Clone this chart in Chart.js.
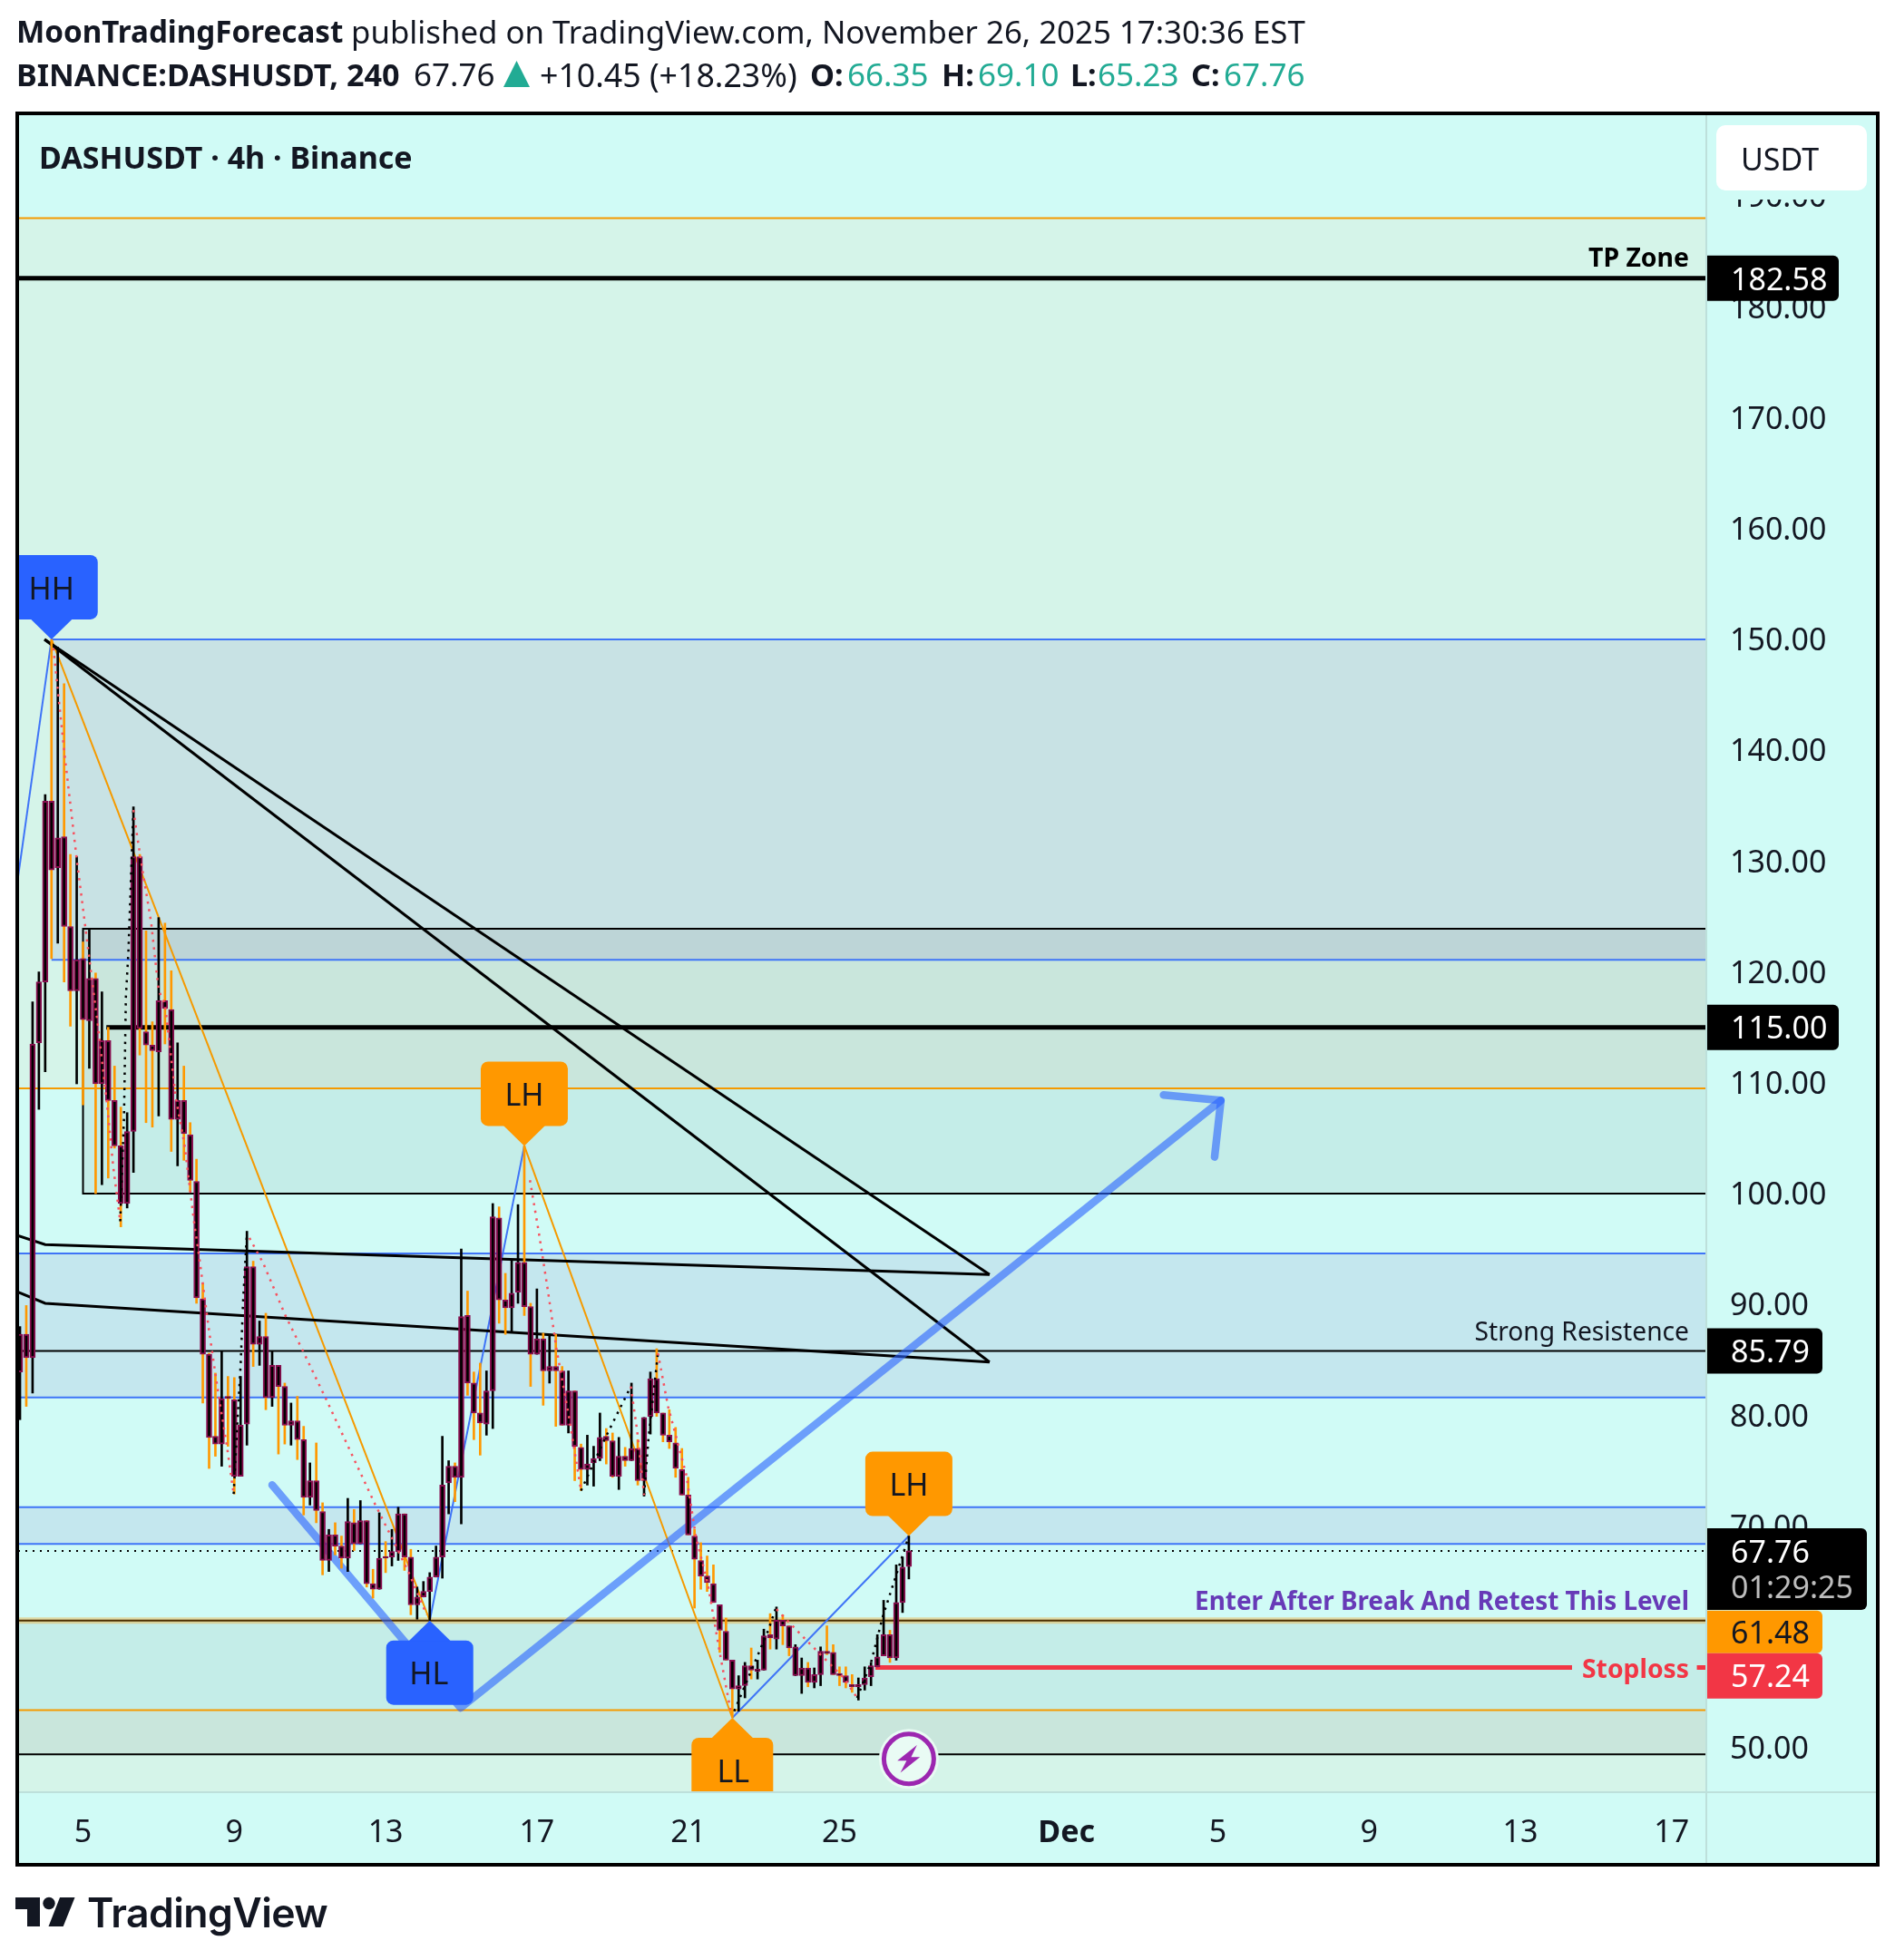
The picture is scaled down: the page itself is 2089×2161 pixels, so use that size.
<!DOCTYPE html>
<html><head><meta charset="utf-8">
<script src="https://cdn.jsdelivr.net/npm/chart.js@4"></script>
<style>
html,body{margin:0;padding:0;background:#fff;width:2089px;height:2161px;overflow:hidden}
#c{position:absolute;left:0;top:0}
.h{position:absolute;font-family:"Noto Sans",sans-serif;font-size:35px;color:#131722;white-space:nowrap;line-height:40px}
.b{font-weight:700;font-size:33.2px}.b2{font-weight:700;font-size:34.2px}.t{color:#22ab94}
.l1{top:15px}.l2{top:62px}
#tv{position:absolute;left:96px;top:2081px;font-family:"Inter",sans-serif;font-weight:600;font-size:44.6px;line-height:56px;color:#131722;letter-spacing:-.6px;white-space:nowrap}
#logo{position:absolute;left:0;top:2030px}
#tri{position:absolute;left:555px;top:67px}
</style></head><body>
<canvas id="c" width="2089" height="2161"></canvas>
<div class="h b l1" style="left:18px">MoonTradingForecast</div>
<div class="h l1" style="left:387px;font-size:34.8px">published on TradingView.com, November 26, 2025 17:30:36 EST</div>
<div class="h b2 l2" style="left:18px">BINANCE:DASHUSDT, 240</div>
<div class="h l2" style="left:456px">67.76</div>
<svg id="tri" width="29" height="29"><path fill="#22ab94" d="M14.5 0L29 29H0Z"/></svg>
<div class="h l2" style="left:595px;font-size:35.7px">+10.45 (+18.23%)</div>
<div class="h b2 l2" style="left:893px">O:</div><div class="h t l2" style="left:934px">66.35</div>
<div class="h b2 l2" style="left:1038px">H:</div><div class="h t l2" style="left:1078px">69.10</div>
<div class="h b2 l2" style="left:1180px">L:</div><div class="h t l2" style="left:1210px">65.23</div>
<div class="h b2 l2" style="left:1313px">C:</div><div class="h t l2" style="left:1349px">67.76</div>
<svg id="logo" width="100" height="131"><path fill="#131722" d="M17 62H44V94H30V75H17Z"/><circle cx="54" cy="68.5" r="6.7" fill="#131722"/><path fill="#131722" d="M66 62H82.5L69.7 94H53.5Z"/></svg>
<div id="tv">TradingView</div>
<script>
// ---- values ----
const opens=[83.9,87.3,85.2,113.6,119.1,135.4,129.4,132.2,124.1,118.3,121.2,115.6,119.4,109.9,113.8,108.4,104.3,99.1,105.6,130.4,114.6,113.4,112.8,117.4,116.6,106.7,108.4,105.3,101.1,90.5,85.5,78.1,77.4,81.7,81.4,74.5,79.2,93.4,86.4,87.1,81.6,84.5,82.6,79.1,79.5,77.8,72.6,74.1,71.3,66.9,69.2,68.2,67.1,70.3,68.4,70.5,64.8,64.3,67.2,67.2,67.7,71.1,67.2,62.9,63.6,64.1,65.4,67.2,73.9,75.4,74.4,89.0,82.9,80.2,79.2,82.2,97.8,90.4,89.7,91.1,93.8,89.8,85.5,86.9,84.0,84.4,84.0,79.1,82.2,77.1,75.1,75.7,76.1,78.1,77.7,74.5,76.3,75.9,77.0,74.1,79.9,83.3,80.2,78.2,77.5,75.1,72.8,69.1,66.9,65.5,64.8,62.9,60.5,57.9,55.3,55.6,57.4,56.9,57.0,60.2,59.8,61.5,61.0,56.5,56.5,57.2,55.9,56.6,58.7,58.6,56.7,56.5,55.7,55.5,55.7,56.4,57.3,58.3,60.2,58.1,63.1,66.35];
const highs=[88.0,89.9,117.3,120.0,136.0,150.0,149.3,146.0,130.6,130.4,122.7,123.8,119.9,118.2,115.0,111.5,107.8,107.3,134.9,130.6,123.7,115.5,124.9,124.4,120.1,113.6,111.5,106.4,103.1,91.9,85.6,83.8,85.8,83.5,83.4,83.5,96.6,93.9,88.5,89.2,85.8,84.5,82.9,81.1,81.7,79.0,75.7,77.5,72.1,69.7,70.3,69.1,72.5,71.5,72.3,70.5,66.1,71.2,68.6,69.7,71.7,71.1,67.9,64.5,65.0,65.8,68.2,78.1,75.9,75.7,95.0,91.2,83.9,84.7,84.0,99.1,98.8,92.8,94.0,99.0,104.3,90.1,91.4,87.4,87.2,87.3,84.4,84.0,82.2,77.4,78.2,77.2,80.2,78.8,78.4,78.0,77.1,82.9,77.8,79.8,83.9,86.0,80.2,80.5,78.9,77.0,74.4,69.7,68.5,67.3,66.5,62.9,61.7,57.9,56.5,57.7,59.0,57.9,60.7,62.1,62.7,62.0,61.0,59.3,58.1,57.7,57.2,59.1,61.0,59.3,57.3,57.3,56.6,56.3,57.3,57.7,60.2,63.3,60.6,66.5,67.2,69.10];
const lows=[79.6,80.8,82.0,107.6,111.0,121.2,122.6,119.1,115.1,109.9,108.0,111.3,100.0,100.8,101.4,104.1,97.0,98.7,101.9,112.5,106.4,106.0,107.0,113.5,103.8,102.5,103.0,100.2,90.1,81.1,75.2,76.3,75.4,77.2,72.9,74.5,77.3,84.4,84.5,80.5,80.8,76.5,77.4,77.3,76.0,71.0,71.9,70.3,65.6,65.9,67.4,66.2,65.9,67.8,68.4,64.5,63.5,64.3,65.8,66.4,66.9,66.0,62.0,61.6,63.6,61.48,65.4,65.3,71.1,72.2,70.2,81.8,77.8,76.4,78.2,78.8,88.3,87.3,87.5,90.1,89.0,82.6,85.5,80.9,82.9,79.0,79.1,78.4,74.1,73.2,73.7,73.6,75.9,75.6,74.4,73.3,75.4,75.9,73.7,72.7,78.3,79.9,77.6,77.0,74.4,72.8,69.2,62.6,64.3,64.1,63.1,58.6,57.9,52.7,53.3,54.5,56.2,56.2,57.0,58.9,58.9,59.3,58.3,56.5,54.9,55.5,55.4,55.6,58.4,56.6,55.6,55.4,55.0,54.3,55.2,55.6,57.3,58.3,57.7,57.9,62.2,65.23];
const closes=[87.3,85.2,113.5,119.1,135.4,129.2,132.1,124.1,118.3,121.1,115.7,119.4,109.9,113.8,108.4,104.3,99.1,105.6,130.4,114.9,113.4,112.9,117.4,116.7,106.7,108.4,105.4,101.2,90.6,85.5,78.0,77.4,81.5,81.5,74.5,79.1,93.4,86.4,87.1,81.6,84.5,82.6,79.1,79.5,77.8,72.6,74.1,71.4,66.9,69.2,68.2,67.1,70.4,68.4,70.5,64.8,64.3,67.1,67.1,67.7,71.1,67.2,62.9,63.6,64.1,65.4,67.2,73.7,75.4,74.4,88.9,82.9,80.2,79.3,82.2,97.9,90.4,89.7,91.0,93.8,89.8,85.5,86.9,84.0,84.4,84.0,79.1,82.2,77.2,75.1,75.6,76.1,78.0,77.7,74.5,76.3,75.9,77.0,74.1,79.8,83.3,80.2,78.2,77.6,75.2,72.8,69.2,67.0,65.5,64.9,63.1,60.6,57.9,55.3,55.6,57.4,57.0,57.1,60.1,59.9,61.5,61.0,59.0,59.1,57.2,55.9,56.6,58.7,58.5,56.6,56.5,55.9,55.5,55.7,56.3,57.4,58.2,60.2,58.1,63.1,66.3,67.76];

const xTickPos=[10,34,58,82,106,130,166,190,214,238,262];
const xTickText=['5','9','13','17','21','25','Dec','5','9','13','17'];
const yTickVals=[50,60,70,80,90,100,110,120,130,140,150,160,170,180,190];

const blueZig1=[[-0.29,128.6],[5,150]];
const blueZig2=[[65,61.48],[80,104.3]];
const blueZig3=[[113,52.7],[141,69.1]];
const orangeZig1=[[5,150],[65,61.48]];
const orangeZig2=[[80,104.3],[113,52.7]];

const pinkDots=[
 [[5.3,149.2],[7.1,139.5],[9,130.2],[11,121.2],[12.4,115],[13.8,108.1],[14.8,102.4],[15.9,97.5]],
 [[18,134.6],[18.6,132.2],[19.6,128.6],[20.8,124.5],[22,118.3],[23,117.1],[24.7,108.7],[26.1,104.4],[27.6,97.5],[28.5,94],[30,87.6],[31.4,82.2],[32.8,77.3],[33.9,72.9]],
 [[36.4,96],[38.6,93.7],[42.1,89],[44.8,85.9],[48.6,81.4],[52.2,77],[56.3,72],[59.2,68.7],[61.6,65.9],[64.5,62]],
 [[80.9,101.2],[82.3,96.5],[83.7,91.4],[85.1,86],[87.1,79.8],[89,73.2]],
 [[96.9,82.6],[97.9,78.6],[99,72.8]],
 [[101.2,85.6],[102.8,80.8],[105.7,74.6],[107.2,69.1],[109.1,64.8],[111,58.6],[112.7,53.4]],
 [[120,62.5],[124.9,59.6],[130.7,56.3],[132.8,54.5]]
];
const blackDots=[
 [[15.9,97.5],[16.5,106.8],[16.8,117.7],[17.2,121.8],[17.7,130],[18,134.9]],
 [[33.9,72.9],[34.5,79.5],[35,84.5],[35.4,90.4],[36,96.4]],
 [[89,73.2],[92.8,77.9],[96.9,82.6]],
 [[99,72.8],[99.7,77.9],[101.2,85.6]],
 [[113.3,53.3],[118.7,60.6],[119.9,62.6]],
 [[132.8,54.5],[135,57.7],[136.9,61.9],[140.6,68.4],[141,69.1]]
];
const bigArrow=[[40,73.7],[69.9,53.6],[190.5,108.4]];
const bigArrowHead=[[181.4,108.9],[190.5,108.4],[189.5,103.3]];
const wedgeUpper=[[3.9,150],[153.8,92.7]];
const wedgeLower=[[3.9,150],[153.8,84.8]];
const trendUpper=[[-0.29,96.2],[4,95.4],[153.8,92.7]];
const trendLower=[[-0.29,91.1],[4,90.1],[153.8,84.8]];

const tpLevel=182.58, resistLevel=115, strongLevel=85.79, lastPrice=67.76, entryLevel=61.48, stopLevel=57.24;
const orangeTopZone=[188.0,109.5], blueTopZone=[150,121.1], boxZone=[123.9,100], blueMidZone=[94.6,81.6], blueLowZone=[71.7,68.4], entryBox=[61.48,49.4], orangeLowZone=[53.4,40];
const pivotNames=['HH','HL','LH','LH','LL'];
const pivotIdx=[5,65,80,141,113];
const pivotVal=[150,61.48,104.3,69.1,52.7];

// ---- drawing ----
const XMIN=-0.29, XMAX=267.5;
const FONT='"Noto Sans",sans-serif';
const lineDs=(pts,color,width,order,extra)=>Object.assign({type:'line',data:pts.map(p=>({x:p[0],y:p[1]})),borderColor:color,borderWidth:width,pointRadius:0,tension:0,fill:false,order:order,spanGaps:true},extra||{});
const hline=(v,x0,color,width,order,extra,x1)=>lineDs([[x0,v],[x1===undefined?XMAX:x1,v]],color,width,order,extra);
const BLUE='#3f74f7',ORG='#f59a00',PINK='#f7525f';
const DOT={borderDash:[2.5,6]};
const up=closes.map((c,i)=>c>=opens[i]);
const idx=opens.map((_,i)=>i);

const datasets=[
 {type:'bar',data:idx.map(i=>({x:i,y:[lows[i],highs[i]]})),backgroundColor:idx.map(i=>up[i]?'#000':'#ff9800'),barThickness:2,borderWidth:0,grouped:false,order:10},
 {type:'bar',data:idx.map(i=>({x:i,y:[opens[i],closes[i]]})),backgroundColor:'#000',borderColor:'#880e4f',borderWidth:2,borderSkipped:false,barThickness:6,minBarLength:2,grouped:false,order:9},
 hline(tpLevel,XMIN,'#000',5,25),
 hline(resistLevel,13.7,'#000',5,25),
 hline(strongLevel,XMIN,'#000',2,25),
 hline(entryBox[1],XMIN,'#000',2,25),
 hline(orangeTopZone[0],XMIN,ORG,2,25),
 hline(orangeTopZone[1],XMIN,ORG,2,25),
 hline(orangeLowZone[0],XMIN,ORG,2,25),
 hline(blueTopZone[0],5,BLUE,2,25),
 hline(blueTopZone[1],5,BLUE,2,25),
 hline(blueMidZone[0],XMIN,BLUE,2,25),
 hline(blueMidZone[1],XMIN,BLUE,2,25),
 hline(blueLowZone[0],XMIN,BLUE,2,25),
 hline(blueLowZone[1],XMIN,BLUE,2,25),
 lineDs([[XMAX,boxZone[0]],[10,boxZone[0]],[10,boxZone[1]],[XMAX,boxZone[1]]],'#000',2,25),
 hline(entryLevel,XMIN,'rgba(255,152,0,.33)',7,25),
 hline(entryLevel,XMIN,'#4b2d00',2,24),
 hline(lastPrice,XMIN,'#000',2,24,{borderDash:[2,6]}),
 hline(stopLevel,135.7,'#f23645',5,24,{},246.2),
 hline(stopLevel,266,'#f23645',5,24),
 lineDs(blueZig1,BLUE,2,20),lineDs(blueZig2,BLUE,2,20),lineDs(blueZig3,BLUE,2,20),
 lineDs(orangeZig1,ORG,2,20),lineDs(orangeZig2,ORG,2,20),
 lineDs(wedgeUpper,'#000',3,19),lineDs(wedgeLower,'#000',3,19),lineDs(trendUpper,'#000',3,19),lineDs(trendLower,'#000',3,19),
 lineDs(bigArrow,'rgba(41,98,255,.6)',8.5,18,{borderCapStyle:'round',borderJoinStyle:'round'}),
 lineDs(bigArrowHead,'rgba(41,98,255,.6)',8.5,18,{borderCapStyle:'round',borderJoinStyle:'round'}),
 ...pinkDots.map(p=>lineDs(p,PINK,2.5,5,DOT)),
 ...blackDots.map(p=>lineDs(p,'#000',2.5,5,DOT))
];

const zonesPlugin={id:'zones',
 beforeDraw(ch){const c=ch.ctx;
  c.save();c.fillStyle='#fff';c.fillRect(0,0,2089,2161);
  c.fillStyle='#d0fbf6';c.fillRect(19,125,2051,1932);
  c.restore();},
 beforeDatasetsDraw(ch){
  const c=ch.ctx,X=ch.scales.x,Y=ch.scales.y,A=ch.chartArea;
  const band=(z,x0,col)=>{const t=Y.getPixelForValue(z[0]),b=Y.getPixelForValue(z[1]),l=X.getPixelForValue(x0);c.fillStyle=col;c.fillRect(l,t,A.right-l,b-t);};
  c.save();c.beginPath();c.rect(A.left,A.top,A.right-A.left,A.bottom-A.top);c.clip();
  band(orangeTopZone,XMIN,'rgba(255,201,137,.12)');
  band(orangeLowZone,XMIN,'rgba(255,201,137,.12)');
  band(blueTopZone,5,'rgba(93,65,183,.1)');
  band(blueMidZone,XMIN,'rgba(100,60,170,.1)');
  band(blueLowZone,XMIN,'rgba(100,60,170,.1)');
  band(boxZone,10,'rgba(0,0,0,.055)');
  band(entryBox,XMIN,'rgba(0,0,0,.055)');
  c.restore();
 },
 afterDatasetsDraw(ch){
  const c=ch.ctx,X=ch.scales.x,Y=ch.scales.y,A=ch.chartArea;
  c.save();c.beginPath();c.rect(A.left,A.top,A.right-A.left,A.bottom-A.top);c.clip();
  // bolt marker on the last bar
  const mx=X.getPixelForValue(141),my=Y.getPixelForValue(entryBox[1])+5;
  c.beginPath();c.arc(mx,my,33,0,7);c.fillStyle='#e9fbf4';c.fill();
  c.beginPath();c.arc(mx,my,27.5,0,7);c.strokeStyle='#9c27b0';c.lineWidth=5;c.stroke();
  c.beginPath();[[9,-15.3],[-12.7,2],[-2.5,2],[-9.3,15.3],[12.3,-2],[2.5,-2]].forEach((p,i)=>i?c.lineTo(mx+p[0],my+p[1]):c.moveTo(mx+p[0],my+p[1]));c.closePath();c.fillStyle='#9c27b0';c.fill();
  // pivot labels
  pivotNames.forEach((n,i)=>{
   const tx=X.getPixelForValue(pivotIdx[i]),ty=Y.getPixelForValue(pivotVal[i]);
   const below=n==='HL'||n==='LL',col=(n==='HH'||n==='HL')?'#2962ff':'#ff9800';
   const w=n==='LL'?90:96,h=71,off=n==='HH'?-45:-w/2,sgn=below?1:-1;
   const top=below?ty+22:ty-22-h;
   c.fillStyle=col;c.beginPath();c.roundRect(tx+off,top,w,h,8);c.fill();
   c.beginPath();c.moveTo(tx,ty);c.lineTo(tx-23.5,ty+sgn*23);c.lineTo(tx+23.5,ty+sgn*23);c.closePath();c.fill();
   c.fillStyle='#131722';c.font='34px '+FONT;c.textAlign='center';c.textBaseline='middle';
   c.fillText(n,tx+(n==='LL'?1:n==='HH'?0:n==='HL'?-1:0),top+h/2+3.5);
  });
  // annotations
  c.textAlign='right';c.textBaseline='middle';const R=1862;
  c.fillStyle='#000';c.font='bold 28.4px '+FONT;c.fillText('TP Zone',R,Y.getPixelForValue(tpLevel)-21);
  c.font='28.2px '+FONT;c.fillStyle='#131722';c.fillText('Strong Resistence',R,Y.getPixelForValue(strongLevel)-20);
  c.font='bold 27.9px '+FONT;c.fillStyle='#673ab7';c.fillText('Enter After Break And Retest This Level',R,Y.getPixelForValue(entryLevel)-20);
  c.font='bold 28.3px '+FONT;c.fillStyle='#f23645';c.fillText('Stoploss',R,Y.getPixelForValue(stopLevel)+3);
  c.restore();
 },
 afterDraw(ch){
  const c=ch.ctx,Y=ch.scales.y;
  c.save();
  // the currency badge's backing hides the top of the highest tick
  c.fillStyle='#d0fbf6';c.fillRect(1884,127,184,93);
  c.fillStyle='#bde0db';c.fillRect(1880,125,2,1932);c.fillRect(20,1975,2050,2);
  c.strokeStyle='#000';c.lineWidth=4;c.strokeRect(19,125,2051,1931);
  const pill=(txt,v,dy,right,h,bg,fg)=>{const y=Y.getPixelForValue(v)+dy;c.fillStyle=bg;c.beginPath();c.roundRect(1882,y-h/2,right-1882,h,[0,6,6,0]);c.fill();
    c.fillStyle=fg;c.font='34px '+FONT;c.textAlign='left';c.textBaseline='middle';c.fillText(txt,1908,y+3);};
  pill(tpLevel.toFixed(2),tpLevel,0,2027,50,'#000','#fff');
  pill(resistLevel.toFixed(2),resistLevel,0,2027,50,'#000','#fff');
  pill(strongLevel.toFixed(2),strongLevel,0,2009,50,'#000','#fff');
  // last price block
  c.fillStyle='#000';c.beginPath();c.roundRect(1882,1685,176,90,[0,6,6,0]);c.fill();
  c.font='34px '+FONT;c.textAlign='left';c.textBaseline='middle';
  c.fillStyle='#fff';c.fillText(lastPrice.toFixed(2),1908,1713);
  c.fillStyle='#bdbdbd';c.fillText('01:29:25',1908,1752);
  pill(entryLevel.toFixed(2),entryLevel,12.5,2009,47,'#ff9800','#131722');
  pill(stopLevel.toFixed(2),stopLevel,9.3,2009,50,'#f23645','#fff');
  // currency badge
  c.fillStyle='#fff';c.beginPath();c.roundRect(1892,138,166,72,10);c.fill();
  c.fillStyle='#131722';c.font='34px '+FONT;c.fillText('USDT',1919,178);
  c.fillStyle='#131722';c.font='bold 34px '+FONT;c.textAlign='left';c.textBaseline='middle';c.fillText('DASHUSDT · 4h · Binance',43,176);
  c.restore();
 }
};

new Chart(document.getElementById('c'),{
 type:'bar',
 data:{datasets},
 plugins:[zonesPlugin],
 options:{
  responsive:false,animation:false,devicePixelRatio:1,
  layout:{autoPadding:false,padding:{left:20,top:125,right:19,bottom:105}},
  plugins:{legend:{display:false},tooltip:{enabled:false},title:{display:false}},
  scales:{
   x:{type:'linear',offset:false,min:XMIN,max:XMAX,
      grid:{display:false,drawTicks:false},border:{display:false},
      afterBuildTicks(s){s.ticks=xTickPos.map(v=>({value:v}));},
      afterFit(s){s.height=81;},
      ticks:{autoSkip:false,maxRotation:0,padding:26,color:'#131722',
        callback(v){const i=xTickPos.indexOf(v);return i<0?'':xTickText[i];},
        font(ctx){return {family:'"Noto Sans",sans-serif',size:34,weight:(ctx.tick&&ctx.tick.label==='Dec')?'bold':'normal'};}}},
   y:{type:'linear',position:'right',min:46.07,max:197.46,
      grid:{display:false,drawTicks:false},border:{display:false},
      afterBuildTicks(s){s.ticks=yTickVals.map(v=>({value:v}));},
      afterFit(s){s.width=189;},
      ticks:{autoSkip:false,padding:26,labelOffset:2.5,color:'#131722',font:{family:'"Noto Sans",sans-serif',size:34},
        callback(v){return v.toFixed(2);}}}
  }
 }
});
</script>
</body></html>
